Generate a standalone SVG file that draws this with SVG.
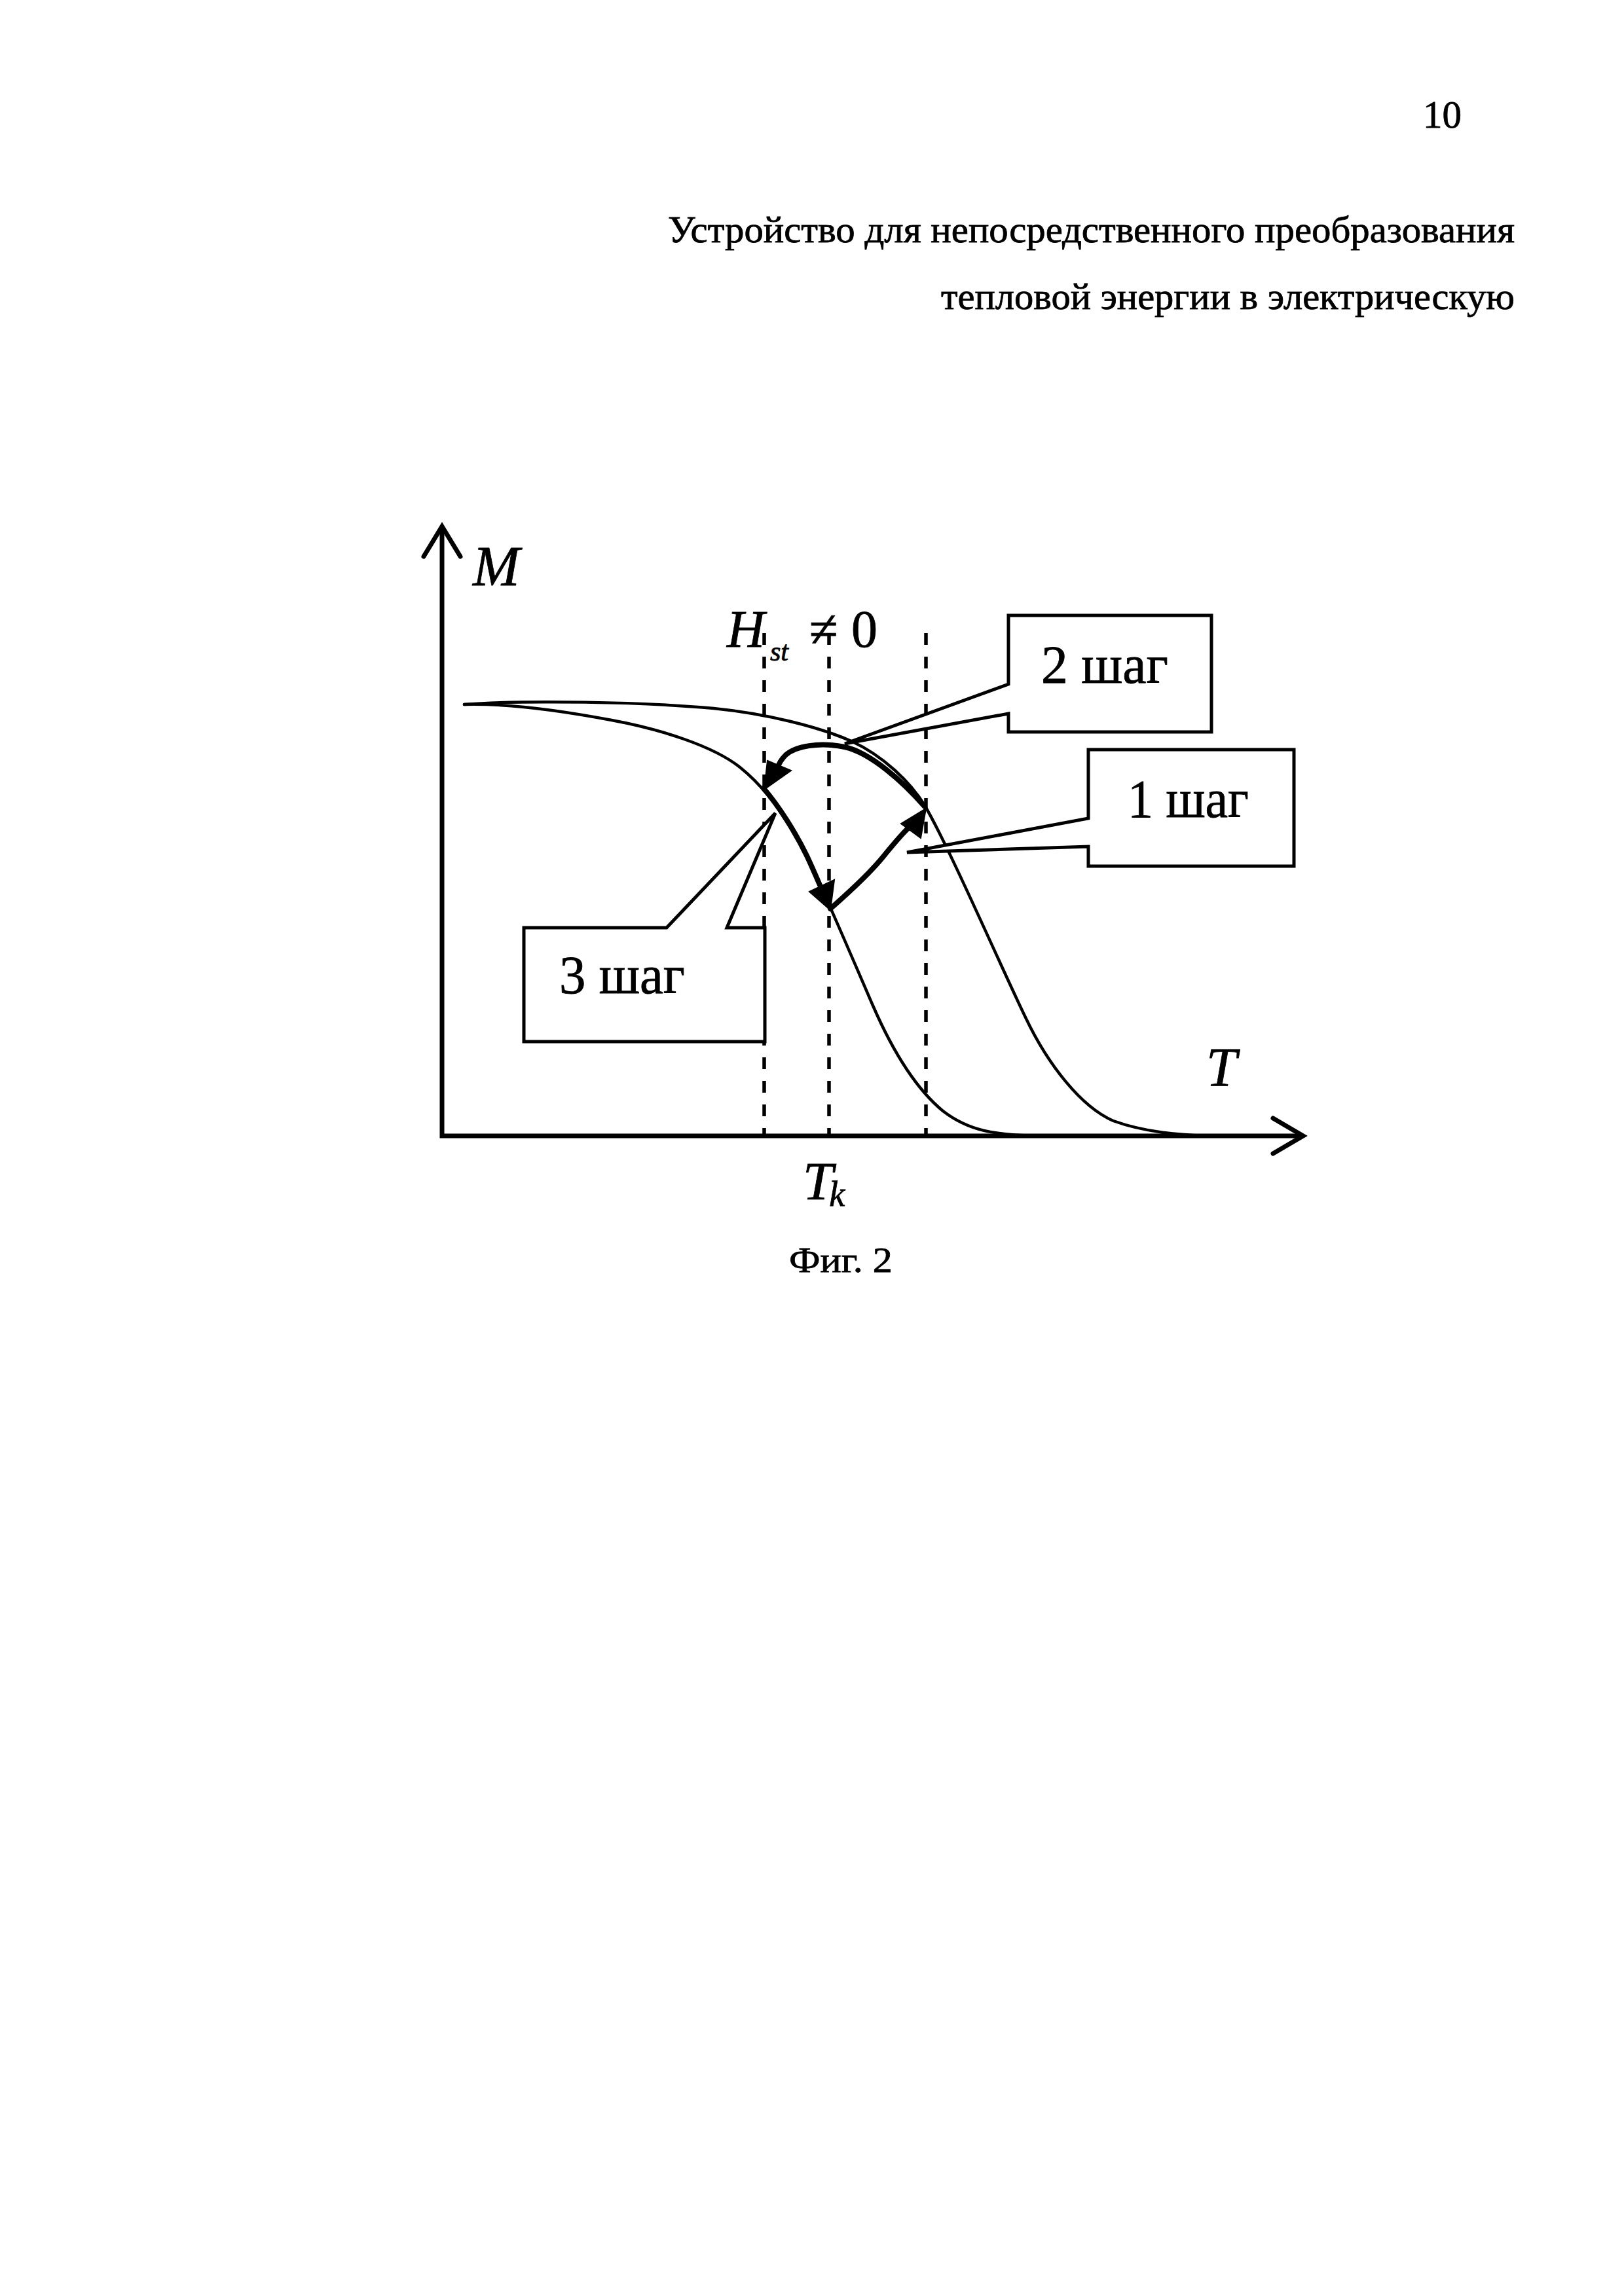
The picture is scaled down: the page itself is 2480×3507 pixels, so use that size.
<svg xmlns="http://www.w3.org/2000/svg" width="2480" height="3507" viewBox="0 0 2480 3507">
<style>
  text { font-family: "Liberation Serif", "Times New Roman", serif; fill: #000; stroke: #000; stroke-width: 0.8; }
  .it { font-style: italic; }
  .axis { fill: none; stroke: #000; stroke-width: 7; stroke-linejoin: miter; }
  .thin { fill: none; stroke: #000; stroke-width: 4.5; stroke-linecap: round; }
  .thick { fill: none; stroke: #000; stroke-width: 8; stroke-linecap: round; }
  .dash { fill: none; stroke: #000; stroke-width: 5.5; stroke-dasharray: 18 18; }
  .box { fill: #fff; stroke: #000; stroke-width: 5; stroke-linejoin: miter; }
  .head { fill: #000; stroke: #000; stroke-width: 2; stroke-linejoin: miter; }
  .lbl { font-size: 82px; }
</style>
<rect width="2480" height="3507" fill="#fff"/>

<g id="header">
  <text x="2173" y="195" font-size="59">10</text>
  <text x="2313" y="370" font-size="57" text-anchor="end" textLength="1293" lengthAdjust="spacingAndGlyphs">Устройство для непосредственного преобразования</text>
  <text x="2313" y="472" font-size="57" text-anchor="end" textLength="876" lengthAdjust="spacingAndGlyphs">тепловой энергии в электрическую</text>
</g>

<g id="axes">
  <path class="axis" d="M675,804 V1735 H1990"/>
  <path class="axis" d="M647,850 L675,804 L703,850" stroke-linecap="round"/>
  <path class="axis" d="M1944,1708 L1990,1735 L1944,1762" stroke-linecap="round"/>
  <text class="it" x="722" y="894" font-size="86">M</text>
  <text class="it" x="1842" y="1659" font-size="84">T</text>
</g>

<g id="guides">
  <line class="dash" x1="1167" y1="967" x2="1167" y2="1735"/>
  <line class="dash" x1="1266" y1="967" x2="1266" y2="1735"/>
  <line class="dash" x1="1414" y1="967" x2="1414" y2="1735"/>
  <text class="it" x="1110" y="988" font-size="80">H</text>
  <text class="it" x="1176" y="1009" font-size="42">st</text>
  <text x="1236" y="988" font-size="80">≠</text>
  <text x="1300" y="988" font-size="80">0</text>
  <text x="1226" y="1832" font-size="83"><tspan class="it">T</tspan><tspan class="it" font-size="54" dx="-6" dy="10">k</tspan></text>
</g>

<g id="curves">
  <path id="curve-upper" class="thin" d="M709,1076 C800,1069 980,1072 1090,1082 C1170,1090 1250,1110 1300,1132 C1350,1155 1390,1195 1412,1230 C1450,1295 1530,1480 1567,1556 C1600,1625 1650,1690 1700,1712 C1750,1730 1800,1733 1840,1735"/>
  <path id="curve-lower" class="thin" d="M709,1076 C780,1074 860,1086 934,1100 C1010,1114 1090,1140 1130,1172 C1165,1200 1200,1245 1232,1307 C1260,1365 1300,1460 1333,1536 C1360,1598 1395,1660 1440,1697 C1480,1728 1520,1733 1580,1735"/>
</g>

<g id="connectors">
  <path id="step1" class="thick" d="M1268,1388 C1300,1360 1330,1332 1350,1307 C1364,1290 1376,1275 1388,1264"/>
  <polygon class="head" points="1376,1258 1414,1235 1406,1280"/>
  <path id="step2" class="thick" d="M1412,1232 C1380,1195 1330,1150 1290,1141 C1250,1133 1215,1140 1200,1153 C1193,1160 1189,1167 1187,1174"/>
  <polygon class="head" points="1172,1162 1208,1177 1167,1206"/>
  <path id="step3" class="thick" d="M1166,1204 C1190,1232 1215,1272 1232,1307 C1240,1324 1246,1338 1252,1352"/>
  <polygon class="head" points="1236,1362 1274,1344 1268,1390"/>
</g>

<g id="callout-2">
  <path class="box" d="M1540,1045 V940 H1850 V1118 H1540 V1090 L1290,1136 Z"/>
  <text class="lbl" x="1590" y="1043" textLength="194" lengthAdjust="spacingAndGlyphs">2 шаг</text>
</g>

<g id="callout-1">
  <path class="box" d="M1662,1250 V1145 H1976 V1323 H1662 V1293 L1385,1302 Z"/>
  <text class="lbl" x="1722" y="1248" textLength="185" lengthAdjust="spacingAndGlyphs">1 шаг</text>
</g>

<g id="callout-3">
  <path class="box" d="M1018,1417 H800 V1591 H1168 V1417 H1110 L1184,1242 Z"/>
  <text class="lbl" x="854" y="1517" textLength="192" lengthAdjust="spacingAndGlyphs">3 шаг</text>
</g>

<g id="caption">
  <text x="1205" y="1943" font-size="54" textLength="158" lengthAdjust="spacingAndGlyphs">Фиг. 2</text>
</g>
</svg>
